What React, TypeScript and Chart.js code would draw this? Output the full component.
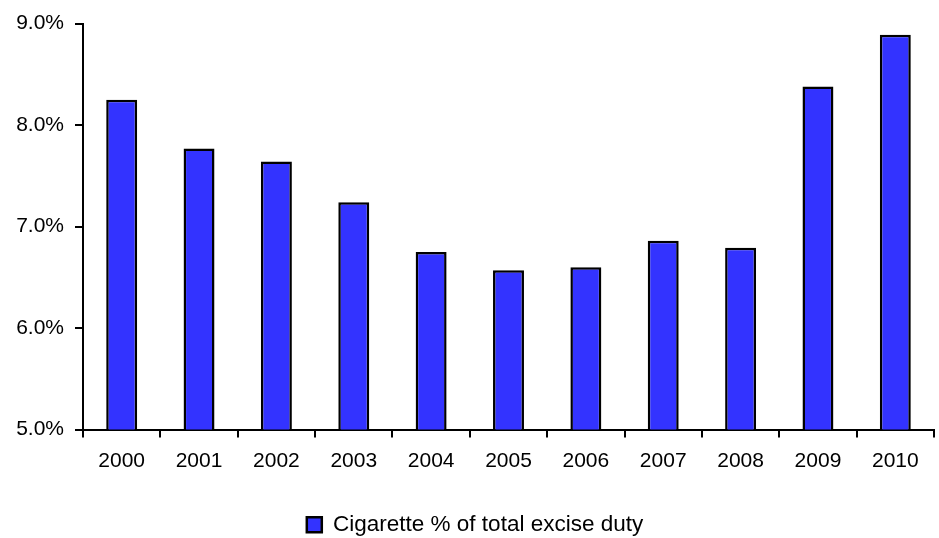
import React, { useEffect, useRef } from "react";
import { Chart, registerables } from "chart.js";

Chart.register(...registerables);

const years = ["2000", "2001", "2002", "2003", "2004", "2005", "2006", "2007", "2008", "2009", "2010"];
const cigaretteShare = [8.25, 7.77, 7.64, 7.24, 6.75, 6.57, 6.6, 6.86, 6.79, 8.38, 8.89];
const seriesLabel = "Cigarette % of total excise duty";
const yMin = 5;
const yMax = 9;
const yStep = 1;

export default function App() {
  const ref = useRef<HTMLCanvasElement | null>(null);

  useEffect(() => {
    if (!ref.current) return;
    const font = { family: "'Liberation Sans', Arial, sans-serif", size: 21 };
    const chart = new Chart(ref.current, {
      type: "bar",
      data: {
        labels: years,
        datasets: [
          {
            label: seriesLabel,
            data: cigaretteShare,
            backgroundColor: "#3333FF",
            borderColor: "#000000",
            borderWidth: 2.5,
            categoryPercentage: 1,
            barPercentage: 0.4,
          },
        ],
      },
      options: {
        animation: false,
        responsive: false,
        maintainAspectRatio: false,
        layout: { padding: { left: 16, right: 5, top: 21, bottom: -8 } },
        plugins: {
          tooltip: { enabled: false },
          legend: {
            position: "bottom",
            labels: {
              color: "#000",
              font: { family: "'Liberation Sans', Arial, sans-serif", size: 22.5 },
              boxWidth: 15,
              boxHeight: 15,
              padding: 3,
            },
          },
        },
        scales: {
          x: {
            afterFit: (s: any) => {
              s.height = 81;
            },
            grid: {
              drawOnChartArea: false,
              drawTicks: true,
              tickLength: 8,
              tickColor: "#000",
              lineWidth: 2,
              offset: true,
            },
            border: { color: "#000", width: 2 },
            ticks: { color: "#000", font, padding: 11, maxRotation: 0 },
          },
          y: {
            min: yMin,
            max: yMax,
            afterFit: (s: any) => {
              s.width = 67;
            },
            grid: {
              drawOnChartArea: false,
              drawTicks: true,
              tickLength: 8,
              tickColor: "#000",
              lineWidth: 2,
            },
            border: { color: "#000", width: 2 },
            ticks: {
              stepSize: yStep,
              color: "#000",
              font,
              padding: 11,
              callback: (v: any) => Number(v).toFixed(1) + "%",
            },
          },
        },
      },
    });
    return () => chart.destroy();
  }, []);

  return (
    <div style={{ position: "absolute", left: 0, top: 0, width: 939, height: 538, background: "#fff" }}>
      <canvas ref={ref} width={939} height={538} style={{ display: "block" }} />
    </div>
  );
}
